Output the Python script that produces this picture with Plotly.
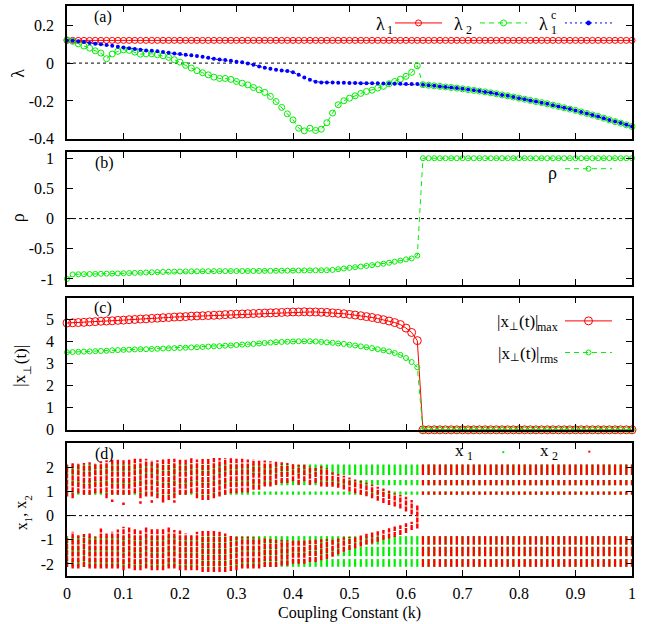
import plotly.graph_objects as go

SERIF = "Liberation Serif, Times New Roman, serif"
RED = "#ff0000"
GREEN = "#00ee00"
BLUE = "#0000ff"

# ---------------- data ----------------
K = [round(i * 0.01, 2) for i in range(101)]
N_UNSYNC = 63  # k = 0.00 .. 0.62

LAMBDA1 = [0.12] * 101
LAMBDA2_UNSYNC = [0.123, 0.115, 0.102, 0.090, 0.079, 0.065, 0.053, 0.023, 0.048, 0.062,
                  0.070, 0.067, 0.058, 0.047, 0.049, 0.049, 0.044, 0.039, 0.030, 0.018,
                  0.005, -0.012, -0.026, -0.040, -0.051, -0.062, -0.074, -0.081, -0.081, -0.086,
                  -0.097, -0.106, -0.115, -0.129, -0.141, -0.155, -0.176, -0.203, -0.234, -0.268,
                  -0.300, -0.344, -0.358, -0.344, -0.356, -0.349, -0.315, -0.264, -0.220, -0.199,
                  -0.185, -0.173, -0.160, -0.150, -0.143, -0.132, -0.123, -0.109, -0.097, -0.085,
                  -0.070, -0.049, -0.014]
LAMBDA1C_UNSYNC = [0.120, 0.118, 0.115, 0.111, 0.106, 0.102, 0.099, 0.095, 0.092, 0.086,
                   0.083, 0.079, 0.074, 0.070, 0.067, 0.065, 0.062, 0.058, 0.055, 0.051,
                   0.048, 0.044, 0.041, 0.037, 0.033, 0.028, 0.023, 0.019, 0.016, 0.012,
                   0.007, 0.004, -0.002, -0.009, -0.018, -0.025, -0.030, -0.035, -0.039, -0.042,
                   -0.048, -0.062, -0.076, -0.088, -0.099, -0.102, -0.102, -0.103, -0.104, -0.104,
                   -0.105, -0.105, -0.106, -0.106, -0.107, -0.107, -0.108, -0.108, -0.109, -0.109,
                   -0.110, -0.110, -0.111]
LAMBDA_SYNC = [-0.114, -0.117, -0.120, -0.123, -0.126, -0.129, -0.132,
               -0.136, -0.140, -0.144, -0.148, -0.152, -0.157, -0.162, -0.168, -0.173, -0.179,
               -0.185, -0.191, -0.197, -0.203, -0.209, -0.215, -0.222, -0.229, -0.236, -0.243,
               -0.250, -0.258, -0.266, -0.274, -0.282, -0.291, -0.300, -0.309, -0.317, -0.326,
               -0.335]
LAMBDA2 = LAMBDA2_UNSYNC + LAMBDA_SYNC
LAMBDA1C = LAMBDA1C_UNSYNC + LAMBDA_SYNC

RHO = [-1.000, -0.925, -0.922, -0.920, -0.918, -0.916, -0.914, -0.912, -0.910, -0.908,
       -0.905, -0.902, -0.899, -0.896, -0.893, -0.889, -0.886, -0.883, -0.880, -0.878,
       -0.876, -0.875, -0.874, -0.873, -0.872, -0.871, -0.871, -0.870, -0.870, -0.869,
       -0.869, -0.868, -0.868, -0.867, -0.867, -0.866, -0.865, -0.864, -0.863, -0.862,
       -0.861, -0.860, -0.859, -0.858, -0.857, -0.856, -0.855, -0.850, -0.838, -0.827,
       -0.815, -0.805, -0.794, -0.783, -0.771, -0.758, -0.747, -0.731, -0.714, -0.695,
       -0.675, -0.660, -0.612] + [1.0] * 38

XPERP_MAX = [4.85, 4.86, 4.87, 4.88, 4.90, 4.91, 4.93, 4.94, 4.95, 4.97,
             4.98, 5.00, 5.01, 5.03, 5.04, 5.06, 5.07, 5.09, 5.10, 5.12,
             5.13, 5.14, 5.16, 5.17, 5.18, 5.19, 5.20, 5.21, 5.23, 5.24,
             5.25, 5.26, 5.27, 5.28, 5.29, 5.30, 5.31, 5.32, 5.33, 5.34,
             5.35, 5.35, 5.36, 5.35, 5.35, 5.34, 5.33, 5.31, 5.29, 5.27,
             5.24, 5.21, 5.18, 5.14, 5.10, 5.05, 5.00, 4.94, 4.87, 4.78,
             4.62, 4.42, 4.05] + [0.0] * 38
XPERP_RMS = [3.52, 3.53, 3.54, 3.55, 3.56, 3.57, 3.58, 3.59, 3.61, 3.62,
             3.63, 3.64, 3.65, 3.66, 3.66, 3.67, 3.68, 3.69, 3.70, 3.71,
             3.72, 3.73, 3.74, 3.75, 3.76, 3.78, 3.79, 3.80, 3.82, 3.83,
             3.85, 3.87, 3.88, 3.90, 3.92, 3.94, 3.96, 3.98, 3.99, 4.00,
             4.01, 4.02, 4.02, 4.02, 4.01, 3.99, 3.97, 3.95, 3.92, 3.90,
             3.86, 3.83, 3.79, 3.75, 3.71, 3.66, 3.61, 3.56, 3.49, 3.40,
             3.26, 3.08, 2.84] + [0.0] * 38

# x1 (drive) attractor bands, same at every k
X1_BAND_LO = [0.86, 1.26, 1.68, -1.20, -1.68, -2.12]
X1_BAND_HI = [1.00, 1.48, 2.12, -0.85, -1.29, -1.80]

# x2 extents for k = 0.00 .. 0.62 (upper and lower branches)
X2_UP_HI = [2.11, 2.18, 2.18, 2.18, 2.21, 2.18, 2.25, 2.29, 2.32, 2.32,
            2.29, 2.35, 2.35, 2.35, 2.35, 2.29, 2.29, 2.32, 2.35, 2.35,
            2.35, 2.32, 2.39, 2.32, 2.39, 2.39, 2.39, 2.39, 2.39, 2.39,
            2.35, 2.35, 2.32, 2.32, 2.29, 2.28, 2.25, 2.25, 2.21, 2.18,
            2.15, 2.11, 2.11, 2.04, 1.97, 2.04, 1.97, 1.80, 1.72, 1.65,
            1.58, 1.50, 1.43, 1.36, 1.28, 1.20, 1.12, 1.03, 0.93, 0.85,
            0.78, 0.65, 0.45]
X2_UP_LO = [0.79, 0.72, 0.93, 0.86, 0.86, 0.93, 0.93, 0.72, 0.86, 0.86,
            0.86, 0.86, 0.93, 0.72, 0.79, 0.79, 0.72, 0.65, 0.65, 0.72,
            0.86, 0.86, 0.93, 0.72, 0.65, 0.65, 0.72, 0.79, 0.86, 0.93,
            0.93, 0.96, 0.96, 1.07, 1.07, 1.21, 1.21, 1.28, 1.35, 1.35,
            1.42, 1.28, 1.42, 1.28, 1.35, 1.21, 1.20, 1.20, 1.15, 1.08,
            1.00, 0.93, 0.86, 0.80, 0.72, 0.62, 0.52, 0.44, 0.38, 0.30,
            0.17, 0.05, -0.53]
X2_DN_HI = [-0.875, -0.67, -0.81, -0.76, -0.74, -0.875, -0.53, -0.74, -0.67, -0.57,
            -0.46, -0.49, -0.53, -0.62, -0.46, -0.53, -0.53, -0.53, -0.46, -0.60,
            -0.62, -0.74, -0.81, -0.67, -0.62, -0.60, -0.62, -0.67, -0.74, -0.81,
            -0.875, -0.875, -0.875, -0.90, -0.92, -0.95, -0.97, -1.00, -1.00, -1.02,
            -1.02, -1.03, -1.03, -1.02, -1.00, -0.98, -0.97, -0.95, -0.95, -0.90,
            -0.88, -0.85, -0.80, -0.75, -0.70, -0.65, -0.60, -0.52, -0.45, -0.40,
            -0.32, -0.25, None]
X2_DN_LO = [-2.13, -2.19, -2.19, -2.13, -2.19, -2.19, -2.19, -2.19, -2.19, -2.19,
            -2.26, -2.19, -2.26, -2.26, -2.19, -2.26, -2.26, -2.26, -2.19, -2.19,
            -2.26, -2.26, -2.26, -2.26, -2.33, -2.33, -2.33, -2.33, -2.33, -2.29,
            -2.26, -2.19, -2.19, -2.19, -2.19, -2.13, -2.13, -2.13, -2.06, -2.06,
            -1.99, -1.99, -1.99, -1.92, -1.92, -1.85, -1.80, -1.70, -1.60, -1.50,
            -1.42, -1.35, -1.28, -1.20, -1.15, -1.08, -1.00, -0.95, -0.88, -0.80,
            -0.72, -0.60, None]
X2_OUT_K = [0.08, 0.10, 0.13, 0.15, 0.17, 0.19]
X2_OUT_Y = [0.62, 0.49, 0.54, 0.58, 0.60, 0.58]

Y1_TICKS = [-0.4, -0.2, 0, 0.2]
Y1_TEXT = ["-0.4", "-0.2", "0", "0.2"]
Y2_TICKS = [-1, -0.5, 0, 0.5, 1]
Y2_TEXT = ["-1", "-0.5", "0", "0.5", "1"]
Y3_TICKS = [0, 1, 2, 3, 4, 5]
Y3_TEXT = ["0", "1", "2", "3", "4", "5"]
Y4_TICKS = [-2, -1, 0, 1, 2]
Y4_TEXT = ["-2", "-1", "0", "1", "2"]

# ---------------- layout helpers ----------------
ML, MR, MT, MB = 67, 28, 4, 48
PW, PH = 660 - ML - MR, 624 - MT - MB


def px(x):
    return (x - ML) / PW


def py(y):
    return (624 - MB - y) / PH


def segs(ks, los, his):
    xs, ys = [], []
    for k, lo, hi in zip(ks, los, his):
        if lo is None or hi is None:
            continue
        xs += [k, k, None]
        ys += [lo, hi, None]
    return xs, ys


fig = go.Figure()

# (a)
fig.add_trace(go.Scatter(x=K, y=LAMBDA1, mode="lines+markers", xaxis="x", yaxis="y",
                         line=dict(color=RED, width=1),
                         marker=dict(symbol="circle-open", size=6, color=RED, line=dict(width=1)),
                         cliponaxis=False))
fig.add_trace(go.Scatter(x=K, y=LAMBDA2, mode="lines+markers", xaxis="x", yaxis="y",
                         line=dict(color=GREEN, width=1, dash="5px,4px"),
                         marker=dict(symbol="circle-open", size=6, color=GREEN, line=dict(width=1)),
                         cliponaxis=False))
fig.add_trace(go.Scatter(x=K, y=LAMBDA1C, mode="lines+markers", xaxis="x", yaxis="y",
                         line=dict(color=BLUE, width=1, dash="2px,3px"),
                         marker=dict(symbol="circle", size=4, color=BLUE),
                         cliponaxis=False))
# (b)
fig.add_trace(go.Scatter(x=K, y=RHO, mode="lines+markers", xaxis="x2", yaxis="y2",
                         line=dict(color=GREEN, width=1, dash="5px,4px"),
                         marker=dict(symbol="circle-open", size=5, color=GREEN, line=dict(width=1)),
                         cliponaxis=False))
# (c)
fig.add_trace(go.Scatter(x=K, y=XPERP_MAX, mode="lines+markers", xaxis="x3", yaxis="y3",
                         line=dict(color=RED, width=1),
                         marker=dict(symbol="circle-open", size=8, color=RED, line=dict(width=1)),
                         cliponaxis=False))
fig.add_trace(go.Scatter(x=K, y=XPERP_RMS, mode="lines+markers", xaxis="x3", yaxis="y3",
                         line=dict(color=GREEN, width=1, dash="5px,4px"),
                         marker=dict(symbol="circle-open", size=5, color=GREEN, line=dict(width=1)),
                         cliponaxis=False))
# (d)
gx, gy = [], []
for lo, hi in zip(X1_BAND_LO, X1_BAND_HI):
    a, b = segs(K, [lo] * len(K), [hi] * len(K))
    gx += a
    gy += b
fig.add_trace(go.Scatter(x=gx, y=gy, mode="lines", xaxis="x4", yaxis="y4",
                         line=dict(color=GREEN, width=2.2), hoverinfo="skip"))

ku = K[:N_UNSYNC]
ax_, ay_ = segs(ku, X2_UP_LO, X2_UP_HI)
bx_, by_ = segs(ku, X2_DN_LO, X2_DN_HI)
fig.add_trace(go.Scatter(x=ax_ + bx_, y=ay_ + by_, mode="lines", xaxis="x4", yaxis="y4",
                         line=dict(color=RED, width=2.4, dash="5px,1px"), hoverinfo="skip"))
fig.add_trace(go.Scatter(x=X2_OUT_K, y=X2_OUT_Y, mode="markers", xaxis="x4", yaxis="y4",
                         marker=dict(symbol="square", size=2.5, color=RED), hoverinfo="skip"))
ks = K[N_UNSYNC:]
rx, ry = [], []
for lo, hi in zip(X1_BAND_LO, X1_BAND_HI):
    a, b = segs(ks, [lo] * len(ks), [hi] * len(ks))
    rx += a
    ry += b
fig.add_trace(go.Scatter(x=rx, y=ry, mode="lines", xaxis="x4", yaxis="y4",
                         line=dict(color=RED, width=2.2), hoverinfo="skip"))

# ---------------- axes ----------------
tickfont = dict(family=SERIF, size=16, color="black")
common = dict(ticks="inside", ticklen=6, tickwidth=1, tickcolor="black",
              showline=True, linecolor="black", linewidth=1.5, mirror="ticks",
              showgrid=False, zeroline=False, tickfont=tickfont)

domains = [[py(137.3), py(4.3)], [py(284), py(150.7)], [py(429.3), py(296.7)], [py(576), py(442.7)]]
yranges = [[-0.4, 0.3], [-1.1, 1.1], [0, 6], [-2.5, 3]]
yticks = [(Y1_TICKS, Y1_TEXT), (Y2_TICKS, Y2_TEXT), (Y3_TICKS, Y3_TEXT), (Y4_TICKS, Y4_TEXT)]

layout_axes = {}
for i in range(4):
    sx = "" if i == 0 else str(i + 1)
    layout_axes["xaxis" + sx] = dict(common, domain=[0, 1], range=[0, 1], dtick=0.1, tick0=0,
                                     anchor="y" + sx, showticklabels=(i == 3),
                                     ticklabelstandoff=2)
    layout_axes["yaxis" + sx] = dict(common, domain=domains[i], range=yranges[i],
                                     anchor="x" + sx, tickmode="array",
                                     tickvals=yticks[i][0], ticktext=yticks[i][1],
                                     ticklabelstandoff=8)

# ---------------- shapes ----------------
shapes = []
for sx in ["", "2", "4"]:
    shapes.append(dict(type="line", xref="x" + sx + " domain", yref="y" + sx,
                       x0=0, x1=1, y0=0, y1=0, layer="below",
                       line=dict(color="black", width=1, dash="dot")))


def key_line(x0, x1, y, color, dash="solid"):
    shapes.append(dict(type="line", xref="paper", yref="paper", x0=px(x0), x1=px(x1),
                       y0=py(y), y1=py(y), line=dict(color=color, width=1, dash=dash)))


def key_circle(x, y, r, color, filled=False):
    shapes.append(dict(type="circle", xref="paper", yref="paper",
                       xsizemode="pixel", ysizemode="pixel",
                       xanchor=px(x), yanchor=py(y), x0=-r, x1=r, y0=-r, y1=r,
                       line=dict(color=color, width=1),
                       fillcolor=color if filled else "rgba(0,0,0,0)"))


def key_dot(x, y, color):
    shapes.append(dict(type="rect", xref="paper", yref="paper",
                       xsizemode="pixel", ysizemode="pixel",
                       xanchor=px(x), yanchor=py(y), x0=-1, x1=1, y0=-1, y1=1,
                       line=dict(width=0), fillcolor=color))


# (a) key
key_line(395, 442, 21, RED)
key_circle(418.5, 21, 3, RED)
key_line(480, 527, 21, GREEN, "5px,4px")
key_circle(503.5, 21, 3, GREEN)
key_line(565, 612, 21, BLUE, "2px,3px")
key_circle(588.5, 21, 2, BLUE, filled=True)
# (b) key
key_line(565, 612, 167.3, GREEN, "5px,4px")
key_circle(588.5, 167.3, 2.5, GREEN)
# (c) key
key_line(565, 612, 320, RED)
key_circle(588.5, 320, 4, RED)
key_line(565, 612, 351.7, GREEN, "5px,4px")
key_circle(588.5, 351.7, 2.5, GREEN)
# (d) key
key_dot(503.3, 451.7, GREEN)
key_dot(589.3, 451.2, RED)

# ---------------- annotations ----------------
ann = []


def text(x, y, s, size=16, xanchor="center", angle=0):
    ann.append(dict(xref="paper", yref="paper", x=px(x), y=py(y), text=s, showarrow=False,
                    xanchor=xanchor, yanchor="middle", textangle=angle, borderpad=0,
                    font=dict(family=SERIF, size=size, color="black")))


# panel tags
text(103, 15.5, "(a)")
text(104, 162, "(b)")
text(103, 307.5, "(c)")
text(104, 454, "(d)")

# y-axis titles (rotated); subscripts are separate, smaller pieces
text(18, 72, "λ", size=18, angle=-90)
text(18, 217, "ρ", size=18, angle=-90)
text(20, 380, "|x", size=17, angle=-90)
text(27, 369.5, "⊥", size=11, angle=-90)
text(20, 354.5, "(t)|", size=17, angle=-90)
text(21, 526, "x", size=16, angle=-90)
text(28, 519.3, "1", size=11, angle=-90)
text(21, 508.5, ", x", size=16, angle=-90)
text(28, 497.5, "2", size=11, angle=-90)
# x-axis title
text(349.5, 613, "Coupling Constant (k)", size=16)

# (a) key texts
text(385.5, 22, "λ", size=18, xanchor="right")
text(386, 28, "1", size=12, xanchor="left")
text(464, 22, "λ", size=18, xanchor="right")
text(464.5, 28, "2", size=12, xanchor="left")
text(549, 22, "λ", size=18, xanchor="right")
text(549.5, 28, "1", size=12, xanchor="left")
text(549.5, 13, "c", size=12, xanchor="left")
# (b) key text
text(558, 172, "ρ", size=18, xanchor="right")
# (c) key texts
text(495.5, 321, "|x", size=17, xanchor="left")
text(507.5, 325, "⊥", size=11, xanchor="left")
text(517.5, 321, "(t)|", size=17, xanchor="left")
text(558.5, 326.5, "max", size=12, xanchor="right")
text(497, 352.5, "|x", size=17, xanchor="left")
text(509, 356.5, "⊥", size=11, xanchor="left")
text(519, 352.5, "(t)|", size=17, xanchor="left")
text(558.5, 358, "rms", size=12, xanchor="right")
# (d) key texts
text(465, 450.5, "x", size=17, xanchor="right")
text(465.5, 456, "1", size=12, xanchor="left")
text(550, 450.5, "x", size=17, xanchor="right")
text(550.5, 456, "2", size=12, xanchor="left")

fig.update_layout(width=660, height=624, autosize=False,
                  margin=dict(l=ML, r=MR, t=MT, b=MB),
                  paper_bgcolor="white", plot_bgcolor="white",
                  showlegend=False, shapes=shapes, annotations=ann,
                  font=dict(family=SERIF, color="black"),
                  **layout_axes)

fig.write_html("out.html")
